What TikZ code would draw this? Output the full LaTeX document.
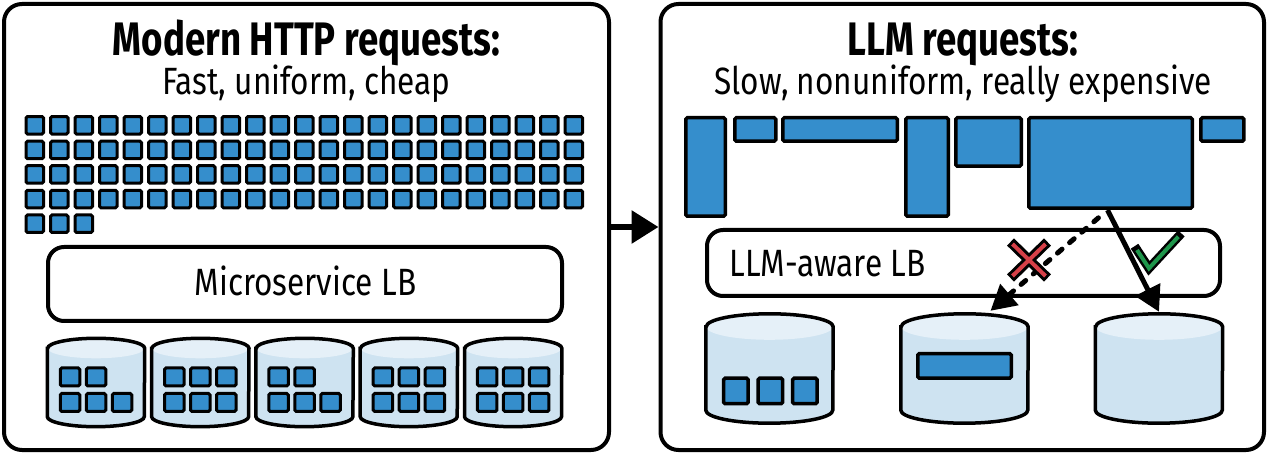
\documentclass[tikz,border=0pt]{standalone}
\usepackage{fontspec}
\setmainfont{Fira Sans}[FakeStretch=0.83]
\newfontfamily\headfont{Fira Sans}[FakeStretch=0.78]
\usepackage{tikz}
\usetikzlibrary{calc}
\usetikzlibrary{arrows.meta}

\definecolor{reqblue}{RGB}{53,142,204}
\definecolor{drumbody}{RGB}{206,227,241}
\definecolor{drumtop}{RGB}{229,240,248}
\definecolor{nored}{RGB}{214,64,72}
\definecolor{okgreen}{RGB}{30,150,75}

% outline of a drum around node #1, half width #2, cap radius #3
\newcommand{\drumpath}[3]{([yshift=-#3]#1.north west) -- ([yshift=#3]#1.south west)
  arc[start angle=180, end angle=360, x radius=#2, y radius=#3]
  -- ([yshift=-#3]#1.north east)
  arc[start angle=0, end angle=180, x radius=#2, y radius=#3] -- cycle}
\newcommand{\drum}[6]{%
  \node[inner sep=0pt, minimum width=#4, minimum height=#5] (#1) at (#2,#3) {};
  \fill[drumbody] \drumpath{#1}{#4/2}{#6};
  \fill[drumtop] ([yshift=-#6]#1.north) ellipse[x radius=#4/2, y radius=#6];
  \draw[line width=3.5pt] \drumpath{#1}{#4/2}{#6};
}

\begin{document}
\begin{tikzpicture}[x=1pt, y=-1pt,
  panel/.style={draw, line width=4pt, rounded corners=18pt, inner sep=0pt},
  lb/.style={draw, line width=4pt, rounded corners=16pt, fill=white, inner sep=0pt},
  req/.style={draw, line width=3pt, fill=reqblue, rounded corners=1.5pt, inner sep=0pt, minimum width=17.5pt, minimum height=17.5pt},
  blk/.style={draw, line width=3.5pt, fill=reqblue, rounded corners=1.5pt, inner sep=0pt},
  head/.style={anchor=base, font=\headfont\bfseries\fontsize{47}{50}\selectfont},
  sub/.style={anchor=base, font=\fontsize{38}{40}\selectfont},
  flow/.style={line width=6pt, -{Triangle[length=27pt,width=32pt]}},
  pick/.style={line width=5pt, -{Triangle[length=25pt,width=27pt]}}]
\useasboundingbox (0,0) rectangle (1270,454);

% the two panels
\node[panel, minimum width=605pt, minimum height=446pt] (http) at (306.5,227) {};
\node[panel, minimum width=603.5pt, minimum height=446pt] (llm) at (962.25,227) {};
\draw[flow] (http.east) -- (llm.west);

% left: many small requests
\node[head] (httphead) at (306.5,56) {Modern HTTP requests:};
\node[sub] (httpsub) at (306.5,95) {Fast, uniform, cheap};
\foreach \i in {0,...,22}
  \foreach \j in {0,...,3}
    \node[req] (q\i-\j) at (34.75+24.5*\i, 125.3+24.6*\j) {};
\foreach \i in {0,1,2}
  \node[req] (q\i-4) at (34.75+24.5*\i, 223.7) {};
\node[lb, minimum width=514pt, minimum height=74pt] (mslb) at (305,284) {};
\node[sub] (mstext) at (305.5,296) {Microservice LB};
\foreach \k/\n in {0/2,1/3,2/2,3/3,4/3} {
  \drum{hd\k}{96+104.3*\k}{382.5}{97pt}{88pt}{10pt}
  \foreach \c in {1,...,\n}
    \node[req, minimum width=19.5pt, minimum height=18pt] (ht\k-\c) at (44+104.3*\k+26*\c, 377) {};
  \foreach \c in {1,2,3}
    \node[req, minimum width=19.5pt, minimum height=18pt] (hb\k-\c) at (44+104.3*\k+26*\c, 402.5) {};
}

% right: few big requests
\node[head] (llmhead) at (963,56) {LLM requests:};
\node[sub] (llmsub) at (963,95) {Slow, nonuniform, really expensive};
\node[blk, minimum width=39.5pt, minimum height=98.5pt] (r1) at (705.5,167) {};
\node[blk, minimum width=41pt, minimum height=23.5pt] (r2) at (755.25,129.5) {};
\node[blk, minimum width=114.5pt, minimum height=23.5pt] (r3) at (840,129.5) {};
\node[blk, minimum width=42.5pt, minimum height=98.5pt] (r4) at (927,167) {};
\node[blk, minimum width=65.5pt, minimum height=48.5pt] (r5) at (988.5,142) {};
\node[blk, minimum width=163.5pt, minimum height=90.5pt] (r6) at (1110.5,163) {};
\node[blk, minimum width=43pt, minimum height=23.5pt] (r7) at (1222.3,129.5) {};
\node[lb, minimum width=513pt, minimum height=66pt] (llmlb) at (963.5,263) {};
\node[sub, anchor=base west] (llmtext) at (726,277) {LLM-aware LB};
\drum{dA}{769.5}{368.5}{127pt}{109pt}{13pt}
\drum{dB}{964.5}{368.5}{127pt}{109pt}{13pt}
\drum{dC}{1159}{368.5}{127pt}{109pt}{13pt}
\foreach \c in {0,1,2}
  \node[blk, minimum width=24.5pt, minimum height=25.5pt] (a\c) at (735.8+34.5*\c, 391) {};
\node[blk, minimum width=93.5pt, minimum height=24.5pt] (b1) at (964.5,365.8) {};

% routing choices
\draw[pick, dash pattern=on 6pt off 10pt, line cap=round, shorten <=12pt] ([xshift=-3pt]r6.south) -- ([xshift=26pt,yshift=3pt]dB.north);
\draw[pick] ([xshift=-3pt]r6.south) -- ([yshift=2pt]dC.north);
\coordinate (nope) at (1029,260);
\draw[line width=10pt] ($(nope)+(-18.5,-18)$) -- ($(nope)+(18.5,18)$);
\draw[line width=10pt] ($(nope)+(18.5,-18)$) -- ($(nope)+(-18.5,18)$);
\draw[nored, line width=4pt] ($(nope)+(-16.5,-16)$) -- ($(nope)+(16.5,16)$);
\draw[nored, line width=4pt] ($(nope)+(16.5,-16)$) -- ($(nope)+(-16.5,16)$);
\coordinate (okay) at (1149,268.3);
\draw[line width=9pt, line cap=rect] ($(okay)+(-12,-18.3)$) -- (okay) -- ($(okay)+(29.3,-31.6)$);
\draw[okgreen, line width=4pt] ($(okay)+(-12,-18.3)$) -- (okay) -- ($(okay)+(29.3,-31.6)$);
\end{tikzpicture}
\end{document}
